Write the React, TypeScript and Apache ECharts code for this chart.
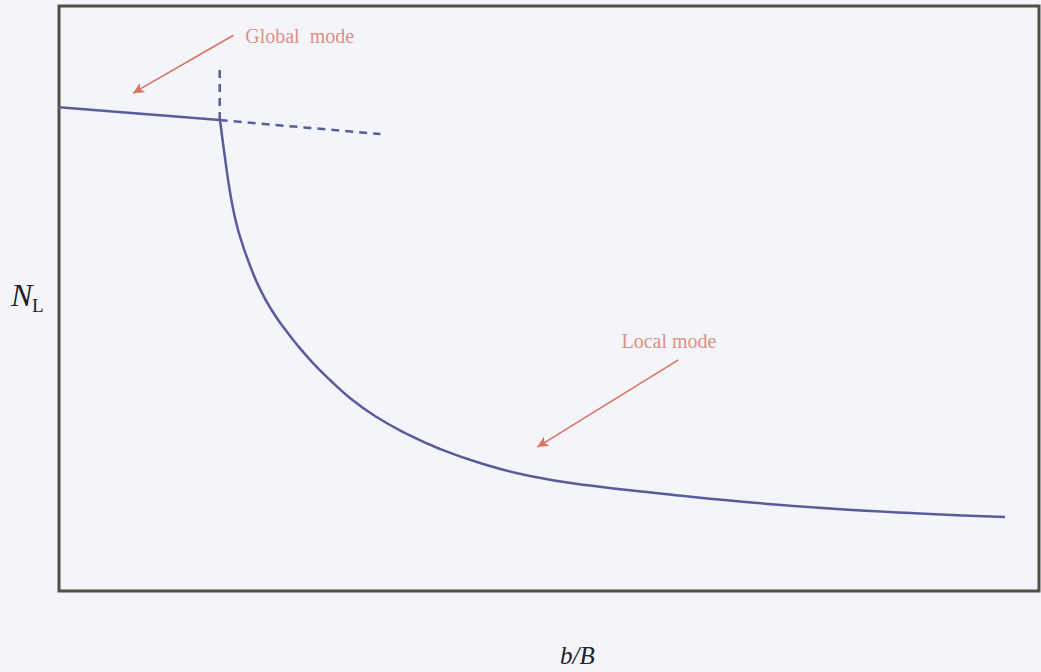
import React, { useEffect, useRef } from "react";
import * as echarts from "echarts";

// Non-dimensional width ratio b/B (x) and buckling half-wave number N_L (y)
const globalModeX = [0, 1.64];
const globalModeY = [82.7, 80.5];

const globalExtX = [1.64, 3.28];
const globalExtY = [80.5, 78.1];

const transitionX = [1.64, 1.64];
const transitionY = [80.5, 89.4];

const localModeX = [
  1.643, 1.694, 1.745, 1.806, 1.878, 1.959, 2.051, 2.163, 2.296, 2.439, 2.592, 2.765,
  2.969, 3.224, 3.531, 3.888, 4.296, 4.806, 5.418, 6.133, 6.949, 7.867, 8.786, 9.653,
];
const localModeY = [
  80.51, 74.02, 68.21, 63.08, 58.97, 55.21, 51.62, 48.21, 44.96, 41.88, 38.97, 36.07,
  32.99, 29.91, 27.01, 24.27, 21.88, 19.66, 18.03, 16.67, 15.3, 14.1, 13.25, 12.65,
];

// Annotations: label anchor and arrow from -> to
const annotationNames = ["Global  mode", "Local mode"];
const annotationLabelAt = [
  [1.9, 94.9],
  [5.74, 42.7],
];
const annotationArrowFrom = [
  [1.78, 95.0],
  [6.32, 39.5],
];
const annotationArrowTo = [
  [0.755, 85.1],
  [4.88, 24.6],
];

const zip = (xs: number[], ys: number[]) => xs.map((x, i) => [x, ys[i]]);

const CURVE = "#5b5b9b";
const NOTE = "#d9735d";
const SERIF = "'Liberation Serif', 'Times New Roman', serif";

export default function App() {
  const ref = useRef<HTMLDivElement>(null);

  useEffect(() => {
    if (!ref.current) return;
    const chart = echarts.init(ref.current, undefined, { renderer: "svg" });
    chart.setOption({
      animation: false,
      backgroundColor: "#f4f4fb",
      grid: {
        show: true,
        left: 59,
        right: 2,
        top: 6,
        bottom: 81,
        borderColor: "#4f4f4a",
        borderWidth: 3,
        backgroundColor: "transparent",
      },
      xAxis: {
        type: "value",
        min: 0,
        max: 10,
        show: false,
      },
      yAxis: {
        type: "value",
        min: 0,
        max: 100,
        show: false,
      },
      graphic: [
        {
          type: "text",
          left: 11,
          top: 279,
          style: {
            text: "N",
            fontFamily: SERIF,
            fontStyle: "italic",
            fontSize: 32,
            fill: "#222",
          },
        },
        {
          type: "text",
          left: 32,
          top: 296,
          style: {
            text: "L",
            fontFamily: SERIF,
            fontSize: 19,
            fill: "#222",
          },
        },
        {
          type: "text",
          left: 560,
          top: 643,
          style: {
            text: "b/B",
            fontFamily: SERIF,
            fontStyle: "italic",
            fontSize: 25,
            fill: "#222",
          },
        },
      ],
      series: [
        {
          name: "Global mode",
          type: "line",
          data: zip(globalModeX, globalModeY),
          showSymbol: false,
          lineStyle: { color: CURVE, width: 2.5 },
        },
        {
          name: "Global mode extension",
          type: "line",
          data: zip(globalExtX, globalExtY),
          showSymbol: false,
          lineStyle: { color: CURVE, width: 2.5, type: [8, 6] },
        },
        {
          name: "Transition",
          type: "line",
          data: zip(transitionX, transitionY),
          showSymbol: false,
          lineStyle: { color: CURVE, width: 2.5, type: [8, 6] },
        },
        {
          name: "Local mode",
          type: "line",
          data: zip(localModeX, localModeY),
          showSymbol: false,
          smooth: 0.5,
          lineStyle: { color: CURVE, width: 2.5 },
        },
        {
          name: "Annotations",
          type: "scatter",
          symbolSize: 0,
          data: annotationNames.map((n, i) => ({ name: n, value: annotationLabelAt[i] })),
          label: {
            show: true,
            position: "right",
            distance: 0,
            formatter: "{b}",
            color: NOTE,
            fontFamily: SERIF,
            fontSize: 20,
          },
          markLine: {
            silent: true,
            symbol: ["none", "arrow"],
            symbolSize: [8, 11],
            label: { show: false },
            lineStyle: { color: NOTE, width: 1.6, type: "solid" },
            data: annotationArrowFrom.map((f, i) => [
              { coord: f },
              { coord: annotationArrowTo[i] },
            ]),
          },
        },
      ],
    });
    return () => chart.dispose();
  }, []);

  return (
    <div
      ref={ref}
      style={{ position: "fixed", left: 0, top: 0, width: 1041, height: 672 }}
    />
  );
}
